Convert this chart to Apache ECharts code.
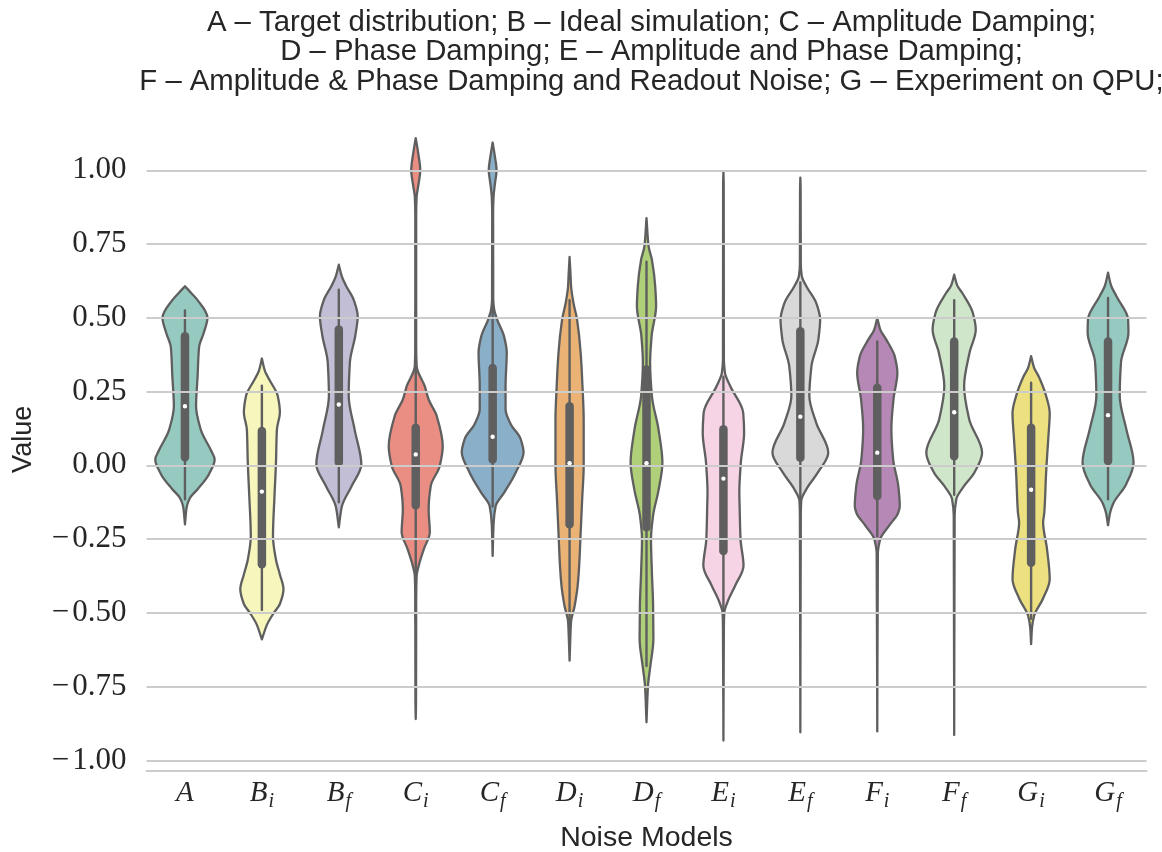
<!DOCTYPE html>
<html><head><meta charset="utf-8">
<script src="https://cdn.jsdelivr.net/npm/echarts@6/dist/echarts.min.js"></script>
<style>html,body{margin:0;padding:0;background:#fff}#c{width:1162px;height:852px}</style>
</head><body><div id="c"></div>
<script>
// ---------- data ----------
const categories = ['A','B_i','B_f','C_i','C_f','D_i','D_f','E_i','E_f','F_i','F_f','G_i','G_f'];
const yTicks = [-1.0,-0.75,-0.5,-0.25,0,0.25,0.5,0.75,1.0];
const titleLines = [
  'A \u2013 Target distribution; B \u2013 Ideal simulation; C \u2013 Amplitude Damping;',
  'D \u2013 Phase Damping; E \u2013 Amplitude and Phase Damping;',
  'F \u2013 Amplitude & Phase Damping and Readout Noise; G \u2013 Experiment on QPU;'
];
// violin density profiles, top to bottom: [value, relative density]
const violinA  = [[0.607,0],[0.585,0.2],[0.56,0.42],[0.50,0.75],[0.45,0.63],[0.40,0.47],[0.30,0.42],[0.20,0.37],[0.12,0.53],[0.05,0.87],[0.02,0.99],[-0.03,0.8],[-0.08,0.43],[-0.11,0.17],[-0.14,0.06],[-0.20,0]];
const violinBi = [[0.362,0],[0.32,0.1],[0.29,0.25],[0.235,0.53],[0.18,0.6],[0.12,0.5],[0.01,0.47],[-0.105,0.42],[-0.24,0.37],[-0.32,0.47],[-0.37,0.6],[-0.42,0.72],[-0.47,0.6],[-0.50,0.4],[-0.54,0.17],[-0.59,0]];
const violinBf = [[0.68,0],[0.64,0.1],[0.607,0.25],[0.56,0.5],[0.505,0.63],[0.44,0.55],[0.35,0.37],[0.235,0.33],[0.12,0.53],[0.003,0.75],[-0.07,0.43],[-0.14,0.1],[-0.21,0]];
const violinCi = [[1.109,0],[1.06,0.08],[1.0,0.15],[0.945,0.08],[0.91,0.03],[0.85,0.015],[0.40,0.015],[0.336,0.03],[0.268,0.3],[0.223,0.43],[0.167,0.7],[0.065,0.9],[-0.002,0.8],[-0.07,0.5],[-0.149,0.43],[-0.227,0.47],[-0.284,0.27],[-0.34,0.1],[-0.375,0.03],[-0.45,0.015],[-0.80,0.01],[-0.86,0]];
const violinCf = [[1.094,0],[1.05,0.07],[1.0,0.13],[0.95,0.07],[0.91,0.03],[0.85,0.015],[0.56,0.02],[0.528,0.05],[0.494,0.15],[0.437,0.38],[0.382,0.47],[0.268,0.43],[0.19,0.43],[0.14,0.6],[0.09,0.93],[0.044,1.03],[-0.024,0.77],[-0.09,0.4],[-0.138,0.1],[-0.2,0.03],[-0.307,0]];
const violinDi = [[0.706,0],[0.65,0.03],[0.607,0.05],[0.55,0.13],[0.494,0.25],[0.38,0.37],[0.268,0.43],[0.156,0.47],[0.0,0.47],[-0.115,0.42],[-0.227,0.37],[-0.34,0.32],[-0.408,0.27],[-0.476,0.17],[-0.53,0.05],[-0.6,0.02],[-0.662,0]];
const violinDf = [[0.838,0],[0.742,0.07],[0.697,0.18],[0.607,0.29],[0.54,0.32],[0.437,0.17],[0.348,0.12],[0.235,0.18],[0.122,0.4],[0.009,0.53],[-0.085,0.4],[-0.17,0.22],[-0.25,0.15],[-0.363,0.18],[-0.476,0.22],[-0.589,0.23],[-0.679,0.13],[-0.747,0.05],[-0.871,0]];
const violinEi = [[0.995,0],[0.95,0.01],[0.36,0.015],[0.314,0.05],[0.268,0.23],[0.178,0.66],[0.11,0.69],[0.009,0.58],[-0.092,0.53],[-0.138,0.54],[-0.25,0.57],[-0.34,0.67],[-0.408,0.39],[-0.465,0.13],[-0.498,0.03],[-0.55,0.015],[-0.933,0]];
const violinEf = [[0.975,0],[0.93,0.01],[0.68,0.015],[0.64,0.05],[0.607,0.2],[0.55,0.53],[0.494,0.66],[0.426,0.6],[0.336,0.37],[0.235,0.3],[0.144,0.53],[0.043,0.93],[-0.025,0.58],[-0.081,0.2],[-0.12,0.03],[-0.17,0.015],[-0.905,0]];
const violinFi = [[0.50,0],[0.46,0.1],[0.426,0.3],[0.37,0.58],[0.314,0.67],[0.223,0.54],[0.122,0.47],[0.02,0.53],[-0.07,0.7],[-0.138,0.75],[-0.16,0.7],[-0.205,0.39],[-0.25,0.1],[-0.3,0.02],[-0.902,0]];
const violinFf = [[0.646,0],[0.61,0.1],[0.584,0.27],[0.517,0.62],[0.46,0.72],[0.381,0.51],[0.268,0.33],[0.156,0.5],[0.043,0.93],[-0.025,0.67],[-0.07,0.33],[-0.115,0.07],[-0.17,0.015],[-0.914,0]];
const violinGi = [[0.37,0],[0.33,0.1],[0.302,0.25],[0.235,0.5],[0.178,0.62],[0.088,0.57],[-0.025,0.5],[-0.16,0.44],[-0.194,0.4],[-0.284,0.53],[-0.386,0.62],[-0.453,0.39],[-0.51,0.1],[-0.55,0.03],[-0.606,0]];
const violinGf = [[0.653,0],[0.61,0.1],[0.573,0.28],[0.494,0.67],[0.449,0.68],[0.348,0.43],[0.235,0.39],[0.122,0.61],[0.009,0.85],[-0.065,0.6],[-0.13,0.17],[-0.16,0.07],[-0.203,0]];
// inner box statistics
const q1          = [0.027,-0.335,0.01,-0.135,0.02,-0.20,-0.21,-0.29,0.026,-0.104,0.031,-0.33,0.015];
const medians     = [0.20,-0.089,0.206,0.037,0.097,0.007,0.007,-0.045,0.165,0.043,0.18,-0.083,0.17];
const q3          = [0.437,0.116,0.46,0.127,0.33,0.20,0.325,0.122,0.454,0.263,0.42,0.127,0.42];
const whiskerLow  = [-0.115,-0.49,-0.125,-0.53,-0.14,-0.55,-0.68,-0.50,-0.11,-0.24,-0.10,-0.52,-0.115];
const whiskerHigh = [0.525,0.27,0.595,0.52,0.53,0.56,0.69,0.30,0.62,0.42,0.56,0.28,0.567];

// ---------- styles ----------
const profiles = [violinA,violinBi,violinBf,violinCi,violinCf,violinDi,violinDf,violinEi,violinEf,violinFi,violinFf,violinGi,violinGf];
const fills = ['#96cac1','#f6f6bd','#c1bed6','#ea8e83','#8aafc9','#eab375','#afcf78','#f6d3e5','#d9d9d9','#b588b5','#cfe6ca','#ede081','#96cac1'];
const GRAY = '#5f5f5f';
const TEXT = '#262626';
const DENS_SCALE = 0.39; // half-width (fraction of band) at relative density 1
const SERIF = "'Liberation Serif', 'DejaVu Serif', serif";
const SANS = "'Liberation Sans', 'DejaVu Sans', sans-serif";

// monotone (in y) cubic tangents dx/dy for a side outline
function tangents(p) {
  const n = p.length, d = [], m = new Array(n);
  for (let k = 0; k < n - 1; k++) {
    const h = p[k + 1][1] - p[k][1];
    d.push(h > 1e-9 ? (p[k + 1][0] - p[k][0]) / h : 0);
  }
  m[0] = d[0]; m[n - 1] = d[n - 2];
  for (let k = 1; k < n - 1; k++) {
    if (d[k - 1] * d[k] <= 0) { m[k] = 0; continue; }
    const h0 = p[k][1] - p[k - 1][1], h1 = p[k + 1][1] - p[k][1];
    const w1 = 2 * h1 + h0, w2 = h1 + 2 * h0;
    m[k] = (w1 + w2) / (w1 / d[k - 1] + w2 / d[k]);
  }
  return m;
}

function renderViolin(params, api) {
  const i = params.dataIndex;
  const prof = profiles[i];
  const band = api.size([1, 0])[0];
  const cx = api.coord([i, 0])[0];
  const k = DENS_SCALE * band;
  const p = prof.map(q => [q[1] * k, api.coord([i, q[0]])[1]]);
  const m = tangents(p);
  const n = p.length;
  let d = 'M' + (cx + p[0][0]) + ' ' + p[0][1];
  for (let j = 0; j < n - 1; j++) {
    const h = p[j + 1][1] - p[j][1];
    const c1x = Math.max(0, p[j][0] + m[j] * h / 3), c2x = Math.max(0, p[j + 1][0] - m[j + 1] * h / 3);
    d += 'C' + (cx + c1x) + ' ' + (p[j][1] + h / 3) + ' ' + (cx + c2x) + ' ' + (p[j + 1][1] - h / 3) + ' ' + (cx + p[j + 1][0]) + ' ' + p[j + 1][1];
  }
  d += 'L' + (cx - p[n - 1][0]) + ' ' + p[n - 1][1];
  for (let j = n - 2; j >= 0; j--) {
    const h = p[j + 1][1] - p[j][1];
    const c1x = Math.max(0, p[j][0] + m[j] * h / 3), c2x = Math.max(0, p[j + 1][0] - m[j + 1] * h / 3);
    d += 'C' + (cx - c2x) + ' ' + (p[j + 1][1] - h / 3) + ' ' + (cx - c1x) + ' ' + (p[j][1] + h / 3) + ' ' + (cx - p[j][0]) + ' ' + p[j][1];
  }
  d += 'Z';
  const yWL = api.coord([i, whiskerLow[i]])[1];
  const yWH = api.coord([i, whiskerHigh[i]])[1];
  const yQ1 = api.coord([i, q1[i]])[1];
  const yQ3 = api.coord([i, q3[i]])[1];
  const yMed = api.coord([i, medians[i]])[1];
  return {
    type: 'group',
    children: [
      { type: 'path', shape: { pathData: d },
        style: { fill: fills[i], stroke: GRAY, lineWidth: 2.3, lineJoin: 'round' } },
      { type: 'line', shape: { x1: cx, y1: yWH, x2: cx, y2: yWL },
        style: { stroke: GRAY, lineWidth: 2.4, lineCap: 'round' } },
      { type: 'line', shape: { x1: cx, y1: yQ3, x2: cx, y2: yQ1 },
        style: { stroke: GRAY, lineWidth: 8.5, lineCap: 'round' } },
      { type: 'circle', shape: { cx: cx, cy: yMed, r: 2.2 },
        style: { fill: '#ffffff', stroke: null } }
    ]
  };
}

const chart = echarts.init(document.getElementById('c'), null, { renderer: 'canvas' });
chart.setOption({
  backgroundColor: '#ffffff',
  animation: false,
  title: {
    text: titleLines.join('\n'),
    left: 646.5, top: 3, textAlign: 'center',
    textStyle: { fontFamily: SANS, fontSize: 29.3, fontWeight: 'normal', color: TEXT, lineHeight: 29.5 }
  },
  grid: { left: 146.5, right: 15.5, top: 108, bottom: 81.3, containLabel: false, outerBoundsMode: 'none' },
  xAxis: {
    type: 'category', data: categories, boundaryGap: true,
    name: 'Noise Models', nameLocation: 'middle', nameGap: 53,
    nameTextStyle: { fontFamily: SANS, fontSize: 28.5, color: TEXT },
    axisLine: { show: true, onZero: false, lineStyle: { color: '#cccccc', width: 2 } },
    axisTick: { show: false },
    splitLine: { show: false },
    axisLabel: {
      margin: 5, interval: 0,
      formatter: function (v) { const p = v.split('_'); return p[1] ? '{m|' + p[0] + '}{s|' + p[1] + '}' : '{m|' + p[0] + '}'; },
      rich: {
        m: { fontFamily: SERIF, fontStyle: 'italic', fontSize: 29, lineHeight: 36, color: TEXT },
        s: { fontFamily: SERIF, fontStyle: 'italic', fontSize: 20, lineHeight: 20, color: TEXT, padding: [16, 0, 0, 1] }
      }
    }
  },
  yAxis: {
    type: 'value', min: -1.035, max: 1.211,
    name: 'Value', nameLocation: 'middle', nameGap: 109,
    nameTextStyle: { fontFamily: SANS, fontSize: 27, color: TEXT },
    axisLine: { show: false }, axisTick: { show: false }, splitLine: { show: false },
    axisLabel: {
      customValues: yTicks, margin: 20,
      formatter: function (v) { return v < 0 ? '{n|\u2212}{d|' + Math.abs(v).toFixed(2) + '}' : '{d|' + v.toFixed(2) + '}'; },
      rich: {
        n: { fontFamily: SERIF, fontSize: 31, color: TEXT, padding: [0, 3, 0, 0] },
        d: { fontFamily: SERIF, fontSize: 31, color: TEXT }
      }
    }
  },
  series: [
    {
      type: 'line', data: [], z: 0, silent: true,
      markLine: {
        silent: true, symbol: ['none', 'none'], animation: false,
        label: { show: false },
        lineStyle: { color: '#cccccc', width: 2, type: 'solid' },
        emphasis: { disabled: true },
        data: yTicks.map(v => ({ yAxis: v }))
      }
    },
    {
      type: 'custom', z: 2, silent: true,
      encode: { x: 0, y: 1 },
      data: categories.map((c, i) => [i, medians[i]]),
      renderItem: renderViolin
    }
  ]
});
</script>
</body></html>
